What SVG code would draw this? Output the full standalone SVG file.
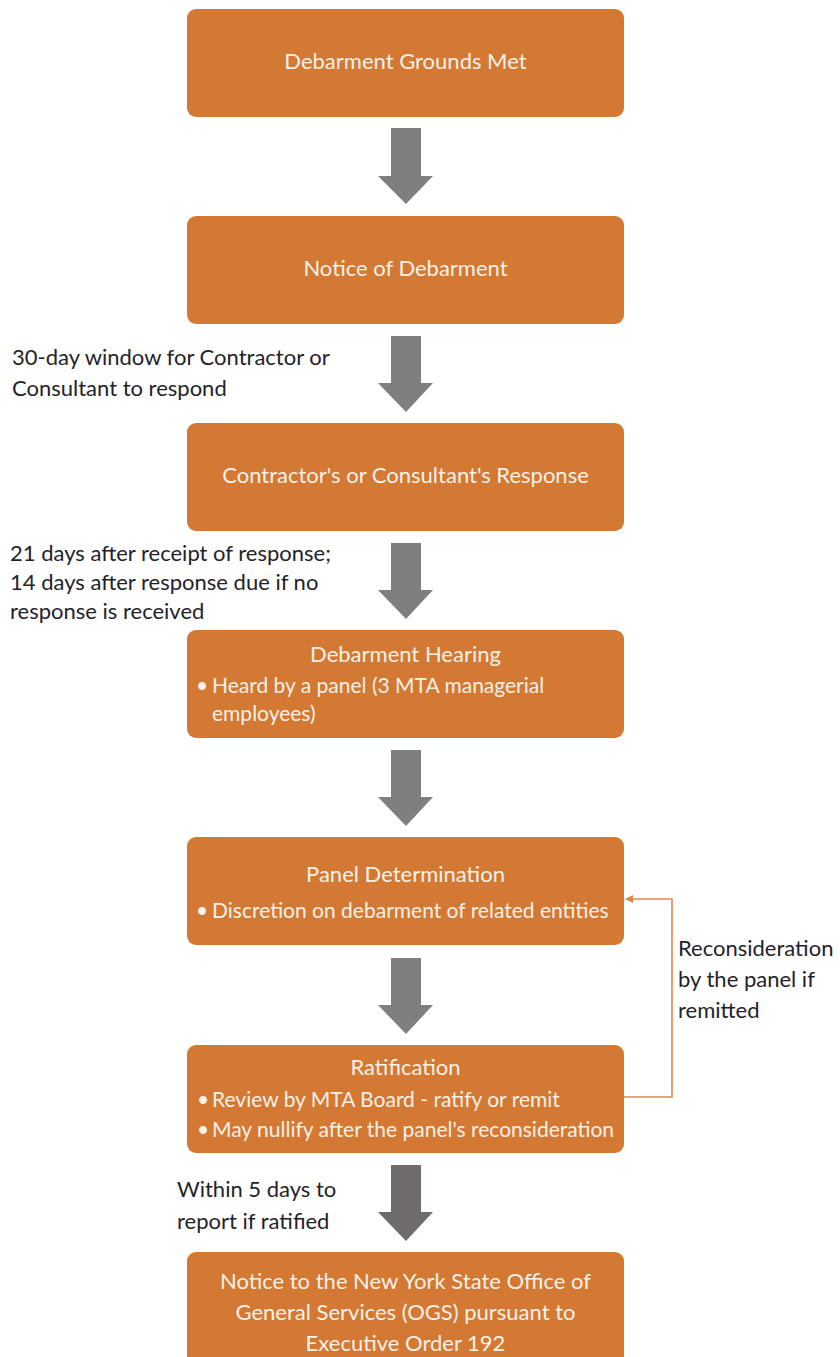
<svg xmlns="http://www.w3.org/2000/svg" width="840" height="1357" viewBox="0 0 840 1357">
<style>
.box{fill:#D37933;}
.bt{font-family:Lato,"Liberation Sans",sans-serif;font-size:22px;fill:#FBF1E8;}
.bl{font-family:Lato,"Liberation Sans",sans-serif;font-size:21px;fill:#FBF1E8;}
.c{text-anchor:middle;}
.lbl{font-family:Lato,"Liberation Sans",sans-serif;font-size:22px;fill:#1f2329;}
.arr{fill:#7f7f7f;}
</style>
<defs>
<marker id="ah" markerWidth="8" markerHeight="8" refX="7" refY="4" orient="auto" markerUnits="userSpaceOnUse">
<path d="M0,0 L8,4 L0,8 z" fill="#E08A4A"/>
</marker>
</defs>
<rect width="840" height="1357" fill="#ffffff"/>

<g id="connectors">
<path class="arr" d="M391,128 H421 V176 H433 L406,204 L378,176 H391 Z"/>
<path class="arr" d="M391,336 H421 V383 H433 L406,412 L378,383 H391 Z"/>
<path class="arr" d="M391,543 H421 V590 H433 L406,619 L378,590 H391 Z"/>
<path class="arr" d="M391,750 H421 V797 H433 L406,826 L378,797 H391 Z"/>
<path class="arr" d="M391,958 H421 V1005 H433 L406,1034 L378,1005 H391 Z"/>
<path d="M391,1165 H421 V1212 H433 L406,1241 L378,1212 H391 Z" fill="#6f6b6b"/>
<path d="M624,1097 H672 V899 H626" fill="none" stroke="#E08A4A" stroke-width="1.6" marker-end="url(#ah)"/>
</g>

<g id="label-30day">
<text class="lbl" x="12" y="365">30-day window for Contractor or</text>
<text class="lbl" x="12" y="396">Consultant to respond</text>
</g>
<g id="label-21days">
<text class="lbl" x="10" y="561">21 days after receipt of response;</text>
<text class="lbl" x="10" y="590">14 days after response due if no</text>
<text class="lbl" x="10" y="619">response is received</text>
</g>
<g id="label-recon">
<text class="lbl" x="678" y="956">Reconsideration</text>
<text class="lbl" x="678" y="987">by the panel if</text>
<text class="lbl" x="678" y="1018">remitted</text>
</g>
<g id="label-5days">
<text class="lbl" x="177" y="1197">Within 5 days to</text>
<text class="lbl" x="177" y="1229">report if ratified</text>
</g>

<g id="n1">
<rect class="box" x="187" y="9" width="437" height="108" rx="9"/>
<text class="bt c" x="405.5" y="69">Debarment Grounds Met</text>
</g>
<g id="n2">
<rect class="box" x="187" y="216" width="437" height="108" rx="9"/>
<text class="bt c" x="405.5" y="276">Notice of Debarment</text>
</g>
<g id="n3">
<rect class="box" x="187" y="423" width="437" height="108" rx="9"/>
<text class="bt c" x="405.5" y="483">Contractor's or Consultant's Response</text>
</g>
<g id="n4">
<rect class="box" x="187" y="630" width="437" height="108" rx="9"/>
<text class="bt c" x="405.5" y="662">Debarment Hearing</text>
<text class="bl" x="196" y="693">•</text>
<text class="bl" x="212" y="693">Heard by a panel (3 MTA managerial</text>
<text class="bl" x="212" y="721">employees)</text>
</g>
<g id="n5">
<rect class="box" x="187" y="837" width="437" height="108" rx="9"/>
<text class="bt c" x="405.5" y="882">Panel Determination</text>
<text class="bl" x="196" y="918">•</text>
<text class="bl" x="212" y="918">Discretion on debarment of related entities</text>
</g>
<g id="n6">
<rect class="box" x="187" y="1045" width="437" height="108" rx="9"/>
<text class="bt c" x="405.5" y="1075">Ratification</text>
<text class="bl" x="197" y="1107">•</text>
<text class="bl" x="212" y="1107">Review by MTA Board - ratify or remit</text>
<text class="bl" x="197" y="1137">•</text>
<text class="bl" x="212" y="1137">May nullify after the panel's reconsideration</text>
</g>
<g id="n7">
<rect class="box" x="187" y="1252" width="437" height="115" rx="9"/>
<text class="bt c" x="405.5" y="1289">Notice to the New York State Office of</text>
<text class="bt c" x="405.5" y="1320">General Services (OGS) pursuant to</text>
<text class="bt c" x="405.5" y="1351">Executive Order 192</text>
</g>
</svg>
